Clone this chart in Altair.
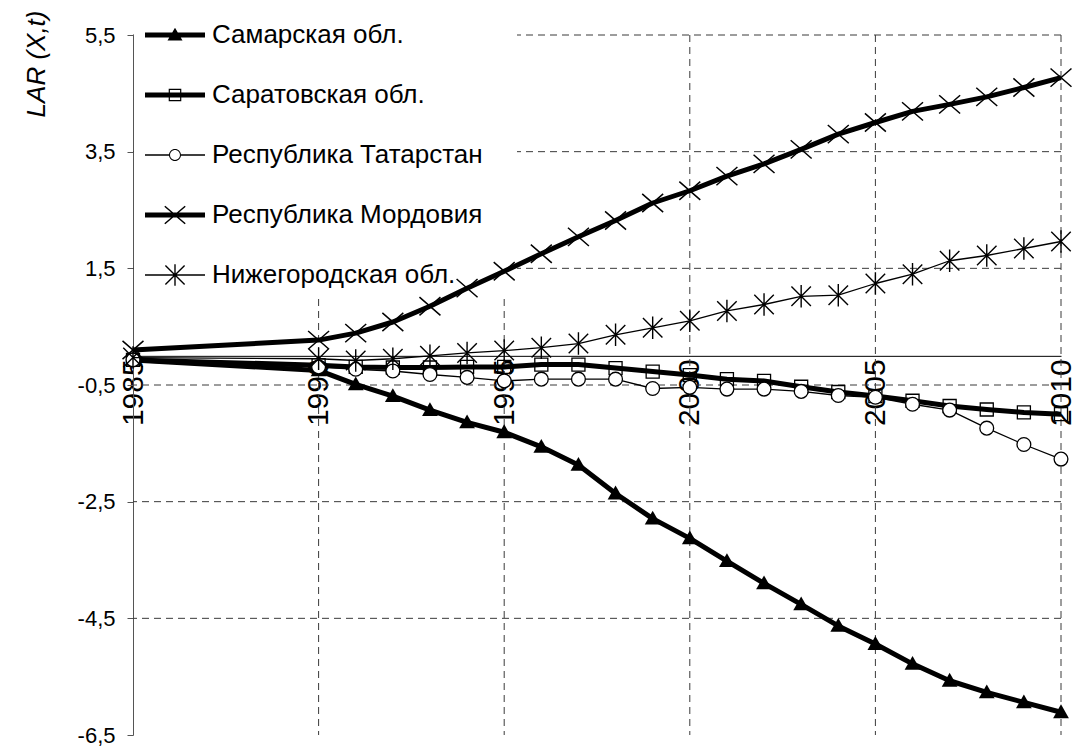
import altair as alt
import pandas as pd
import math

# ---------------- data ----------------
years = [1985, 1990, 1991, 1992, 1993, 1994, 1995, 1996, 1997, 1998, 1999,
         2000, 2001, 2002, 2003, 2004, 2005, 2006, 2007, 2008, 2009, 2010]

series_names = ["Самарская обл.", "Саратовская обл.", "Республика Татарстан",
                "Республика Мордовия", "Нижегородская обл."]

samara = [-0.07, -0.25, -0.49, -0.69, -0.93, -1.14, -1.31, -1.56, -1.87, -2.36, -2.79,
          -3.13, -3.52, -3.90, -4.26, -4.63, -4.94, -5.28, -5.57, -5.77, -5.94, -6.11]
saratov = [-0.07, -0.16, -0.19, -0.20, -0.20, -0.19, -0.19, -0.15, -0.15, -0.21, -0.27,
           -0.33, -0.40, -0.43, -0.53, -0.62, -0.69, -0.77, -0.86, -0.92, -0.97, -1.00]
tatarstan = [-0.07, -0.19, -0.23, -0.26, -0.32, -0.37, -0.43, -0.40, -0.40, -0.40, -0.56,
             -0.54, -0.57, -0.57, -0.61, -0.68, -0.71, -0.83, -0.93, -1.24, -1.52, -1.77]
mordovia = [0.10, 0.27, 0.39, 0.58, 0.85, 1.16, 1.45, 1.75, 2.04, 2.32, 2.62,
            2.83, 3.08, 3.29, 3.54, 3.80, 4.00, 4.19, 4.31, 4.44, 4.60, 4.77]
nizhny = [-0.03, -0.05, -0.08, -0.05, 0.00, 0.05, 0.09, 0.14, 0.21, 0.36, 0.48,
          0.60, 0.77, 0.88, 1.02, 1.04, 1.24, 1.40, 1.63, 1.72, 1.84, 1.96]

x_ticks = [1985, 1990, 1995, 2000, 2005, 2010]
x_grid = [1990, 1995, 2000, 2005, 2010]
y_ticks = [-6.5, -4.5, -2.5, -0.5, 1.5, 3.5, 5.5]
y_grid = [-4.5, -2.5, -0.5, 1.5, 3.5, 5.5]

values_by_series = [samara, saratov, tatarstan, mordovia, nizhny]

rows = []
for name, vals in zip(series_names, values_by_series):
    for yr, v in zip(years, vals):
        rows.append({"series": name, "year": yr, "value": v})
df = pd.DataFrame(rows)

# ---------------- styling ----------------
FONT = "Liberation Sans"
W, H = 928, 700
Y_MIN, Y_MAX = -6.5, 5.5
zero_from_bottom = H * (0 - Y_MIN) / (Y_MAX - Y_MIN)

xaxis = alt.Axis(values=x_ticks, format="d", labelAngle=-90, offset=-zero_from_bottom,
                 grid=False, ticks=False, domainColor="black", domainWidth=1,
                 labelFont=FONT, labelFontSize=30, labelColor="black", labelPadding=3,
                 title=None)
yaxis = alt.Axis(values=y_ticks, grid=False,
                 labelExpr="(datum.value < 0 ? '-' : '') + replace(format(abs(datum.value), '.1f'), '.', ',')",
                 domainColor="#555555", tickColor="#555555", tickSize=6, labelPadding=12,
                 labelFont=FONT, labelFontSize=22, labelColor="black",
                 title="LAR (X,t)", titleFont=FONT, titleFontSize=26, titleFontStyle="italic",
                 titleFontWeight="normal", titleColor="black", titleAngle=-90,
                 titleX=-97, titleY=-25, titleAlign="right", titleBaseline="middle")

X = alt.X("year:Q", scale=alt.Scale(domain=[1985, 2010], nice=False, zero=False), axis=xaxis)
Y = alt.Y("value:Q", scale=alt.Scale(domain=[Y_MIN, Y_MAX], nice=False, zero=False), axis=yaxis)

grid_color = "#3a3a3a"
hgrid = alt.Chart(pd.DataFrame({"value": y_grid})).mark_rule(
    color=grid_color, strokeWidth=1, strokeDash=[7, 5]).encode(y=Y)
vgrid = alt.Chart(pd.DataFrame({"year": x_grid})).mark_rule(
    color=grid_color, strokeWidth=1, strokeDash=[7, 5]).encode(x=X)

# white box behind the legend (covers the grid, but the series are drawn over it)
legend_box = alt.Chart(pd.DataFrame({"k": [0]})).mark_rect(color="white").encode(
    x=alt.value(1), x2=alt.value(384), y=alt.value(-27), y2=alt.value(264))

X_PATH = "M-1,-0.87L1,0.87M-1,0.87L1,-0.87"
AST_PATH = "M-1,-1L1,1M-1,1L1,-1M0,-1.15L0,1.15"
TRI_PATH = "M0,-1L1,0.75L-1,0.75Z"

styles = {
    "Самарская обл.": dict(lw=5, mark=dict(shape=TRI_PATH, size=250, filled=True, color="black")),
    "Саратовская обл.": dict(lw=5, mark=dict(shape="square", size=170, filled=False, stroke="black", strokeWidth=1.3)),
    "Республика Татарстан": dict(lw=1.3, mark=dict(shape="circle", size=190, filled=False, fill="white", stroke="black", strokeWidth=1.3)),
    "Республика Мордовия": dict(lw=5, mark=dict(shape=X_PATH, size=440, filled=False, stroke="black", strokeWidth=1.5)),
    "Нижегородская обл.": dict(lw=1.3, mark=dict(shape=AST_PATH, size=380, filled=False, stroke="black", strokeWidth=1.4)),
}

layers = [hgrid, vgrid, legend_box]
for name in series_names:
    st = styles[name]
    base = alt.Chart(df[df["series"] == name])
    layers.append(base.mark_line(color="black", strokeWidth=st["lw"], strokeJoin="round").encode(x=X, y=Y))
    layers.append(base.mark_point(opacity=1, **st["mark"]).encode(x=X, y=Y))

# ---------------- legend (custom combined line+marker symbols) ----------------
def strip(x0, y0, x1, y1, t):
    dx, dy = x1 - x0, y1 - y0
    L = math.hypot(dx, dy)
    nx, ny = -dy / L * t, dx / L * t
    pts = [(x0 + nx, y0 + ny), (x1 + nx, y1 + ny), (x1 - nx, y1 - ny), (x0 - nx, y0 - ny)]
    area = sum(pts[i][0] * pts[(i + 1) % 4][1] - pts[(i + 1) % 4][0] * pts[i][1] for i in range(4))
    if area < 0:
        pts = pts[::-1]
    return "M" + "L".join(f"{px:.4f},{py:.4f}" for px, py in pts) + "Z"

extent = "M0,-1L0,-1 M0,1L0,1 "   # invisible points so every legend row is 60px tall
thick = "M-1,-0.083H1V0.083H-1Z"
thin_split = "M-1,-0.022H-0.2V0.022H-1Z M0.2,-0.022H1V0.022H0.2Z"
thin = "M-1,-0.022H1V0.022H-1Z"
leg_samara = extent + thick + " M0,-0.24L0.25,0.18H-0.25Z"
leg_saratov = extent + thick + " M-0.21,-0.21H0.21V0.21H-0.21Z M-0.17,-0.17V0.17H0.17V-0.17Z"
leg_tatar = (extent + thin_split + " M0.2,0A0.2,0.2,0,1,1,-0.2,0A0.2,0.2,0,1,1,0.2,0Z"
             " M0.165,0A0.165,0.165,0,1,0,-0.165,0A0.165,0.165,0,1,0,0.165,0Z")
leg_mord = extent + thick + " " + strip(-0.34, -0.29, 0.34, 0.29, 0.025) + " " + strip(-0.34, 0.29, 0.34, -0.29, 0.025)
leg_nizh = (extent + thin + " " + strip(-0.32, -0.32, 0.32, 0.32, 0.023) + " " + strip(-0.32, 0.32, 0.32, -0.32, 0.023)
            + " M-0.023,-0.36H0.023V0.36H-0.023Z")
legend_paths = [leg_samara, leg_saratov, leg_tatar, leg_mord, leg_nizh]

legend_layer = alt.Chart(df).transform_filter("false").mark_point(
    filled=True, color="black", opacity=1).encode(
    shape=alt.Shape("series:N",
                    scale=alt.Scale(domain=series_names, range=legend_paths),
                    legend=alt.Legend(orient="none", legendX=6, legendY=-36, title=None,
                                      symbolSize=3600, symbolStrokeWidth=0,
                                      symbolFillColor="black", symbolOpacity=1,
                                      labelFont=FONT, labelFontSize=26, labelColor="black",
                                      labelOffset=7, rowPadding=0, padding=6,
                                      labelLimit=400)))
layers.append(legend_layer)

chart = alt.layer(*layers).properties(
    width=W, height=H,
    autosize=alt.AutoSizeParams(type="none"),
    padding={"left": 125, "top": 27, "right": 14, "bottom": 13},
    background="white",
).configure_view(stroke=None)

chart.save("out.html", embed_options={"renderer": "svg", "actions": False})
